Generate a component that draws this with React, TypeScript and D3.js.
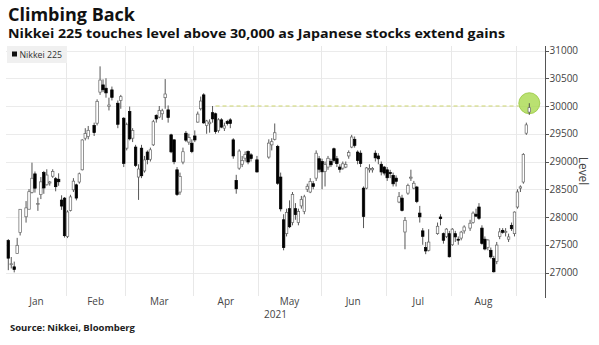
import React, { useEffect } from 'react';
import * as d3 from 'd3';

// ---------- data (Nikkei 225 daily OHLC, 2021) ----------
const dates = [
  '2021-01-04','2021-01-05','2021-01-06','2021-01-07','2021-01-08','2021-01-12','2021-01-13','2021-01-14','2021-01-15','2021-01-18',
  '2021-01-19','2021-01-20','2021-01-21','2021-01-22','2021-01-25','2021-01-26','2021-01-27','2021-01-28','2021-01-29',
  '2021-02-01','2021-02-02','2021-02-03','2021-02-04','2021-02-05','2021-02-08','2021-02-09','2021-02-10','2021-02-12','2021-02-15',
  '2021-02-16','2021-02-17','2021-02-18','2021-02-19','2021-02-22','2021-02-24','2021-02-25','2021-02-26',
  '2021-03-01','2021-03-02','2021-03-03','2021-03-04','2021-03-05','2021-03-08','2021-03-09','2021-03-10','2021-03-11','2021-03-12',
  '2021-03-15','2021-03-16','2021-03-17','2021-03-18','2021-03-19','2021-03-22','2021-03-23','2021-03-24','2021-03-25','2021-03-26',
  '2021-03-29','2021-03-30','2021-03-31',
  '2021-04-01','2021-04-02','2021-04-05','2021-04-06','2021-04-07','2021-04-08','2021-04-09','2021-04-12','2021-04-13','2021-04-14',
  '2021-04-15','2021-04-16','2021-04-19','2021-04-20','2021-04-21','2021-04-22','2021-04-23','2021-04-26','2021-04-27','2021-04-28','2021-04-30',
  '2021-05-06','2021-05-07','2021-05-10','2021-05-11','2021-05-12','2021-05-13','2021-05-14','2021-05-17','2021-05-18','2021-05-19',
  '2021-05-20','2021-05-21','2021-05-24','2021-05-25','2021-05-26','2021-05-27','2021-05-28','2021-05-31',
  '2021-06-01','2021-06-02','2021-06-03','2021-06-04','2021-06-07','2021-06-08','2021-06-09','2021-06-10','2021-06-11','2021-06-14',
  '2021-06-15','2021-06-16','2021-06-17','2021-06-18','2021-06-21','2021-06-22','2021-06-23','2021-06-24','2021-06-25','2021-06-28',
  '2021-06-29','2021-06-30',
  '2021-07-01','2021-07-02','2021-07-05','2021-07-06','2021-07-07','2021-07-08','2021-07-09','2021-07-12','2021-07-13','2021-07-14',
  '2021-07-15','2021-07-16','2021-07-19','2021-07-20','2021-07-21','2021-07-26','2021-07-27','2021-07-28','2021-07-29','2021-07-30',
  '2021-08-02','2021-08-03','2021-08-04','2021-08-05','2021-08-06','2021-08-10','2021-08-11','2021-08-12','2021-08-13','2021-08-16',
  '2021-08-17','2021-08-18','2021-08-19','2021-08-20','2021-08-23','2021-08-24','2021-08-25','2021-08-26','2021-08-27','2021-08-30','2021-08-31',
  '2021-09-01','2021-09-02','2021-09-03','2021-09-06','2021-09-07',
];

const opens = [
  27575,27151,27102,27340,27720,28004,28140,28442,28777,28238,
  28403,28800,28580,28612,28735,28690,28680,28305,28340,
  27650,28120,28490,28580,28630,28850,29420,29450,29650,29690,
  30250,30380,30320,29990,30290,30050,30100,29780,
  29240,29900,29420,29260,28720,29240,28830,29170,29040,29300,
  29830,29800,29860,30150,29930,29480,29390,28850,28450,28990,
  29510,29350,29330,
  29460,29710,29950,30200,29650,29680,29880,29860,29560,29750,
  29600,29720,29750,29390,28660,28880,28950,29060,29180,29120,29030,
  29080,29300,29400,29270,28720,27950,27700,28150,27900,28150,
  27900,28200,28100,28500,28450,28600,28700,29050,
  29000,28820,28900,29000,29230,29050,28900,28880,28900,29100,
  29260,29400,29170,29150,28520,28520,28850,28850,29150,29100,
  28950,28900,
  28850,28800,28750,28700,28270,28340,27730,28430,28700,28520,
  28540,28070,27750,27450,27400,27700,28000,27700,27650,27700,
  27500,27700,27600,27620,27750,27800,27900,28050,28180,27800,
  27600,27450,27400,27250,27200,27650,27760,27740,27600,27850,27700,
  28180,28520,28630,29510,29890,
];

const highs = [
  27602,27279,27196,27624,28139,28287,28503,28979,28820,28349,
  28720,28830,28860,28649,28860,28720,28787,28391,28360,
  28120,28400,28700,28600,28800,29400,29600,29640,29700,30120,
  30714,30480,30500,30150,30350,30100,30200,29800,
  29700,29990,29600,29300,28950,29300,29100,29200,29250,29750,
  29850,30000,29950,30485,30010,29500,29400,28900,28800,29250,
  29550,29500,29400,
  29560,29900,30170,30230,29750,29760,30000,29880,29780,29780,
  29700,29750,29780,29420,28760,29220,29100,29180,29200,29150,29100,
  29400,29420,29685,29300,28800,28050,28150,28300,28450,28250,
  28150,28380,28400,28600,28700,28650,29200,29100,
  29050,29000,29100,29050,29250,29100,28950,29000,29000,29200,
  29480,29450,29200,29200,28550,28900,28950,28900,29200,29150,
  29000,28920,
  28900,28850,28800,28750,28450,28400,28000,28600,28852,28650,
  28560,28200,27800,27550,27780,27900,28050,27720,27800,27750,
  27800,27750,27650,27750,27850,27950,28100,28150,28250,27850,
  27650,27600,27450,27300,27550,27800,27800,27800,27700,27900,28100,
  28500,28570,29150,29700,30050,
];

const lows = [
  27042,27073,27002,27340,27667,27899,28140,28424,28440,28111,
  28323,28418,28568,28565,28705,28463,28563,28128,27629,
  27620,28100,28450,28300,28600,28840,29380,29400,29460,29650,
  30200,30250,30150,29920,30100,29600,29950,28900,
  29200,29380,29350,28900,28308,28700,28800,28950,29000,29280,
  29700,29780,29750,29950,29700,29150,28950,28380,28400,28950,
  29350,29300,29150,
  29350,29700,29920,29680,29500,29520,29700,29500,29520,29600,
  29550,29650,29600,29050,28420,28850,28900,29000,28950,29000,28800,
  29050,29200,29380,28580,28100,27400,27650,27800,27850,27950,
  27850,28150,28050,28450,28430,28500,28650,28800,
  28500,28550,28850,28900,28980,28900,28800,28850,28880,29050,
  29240,29250,28950,28900,27800,28500,28800,28800,29000,28950,
  28750,28750,
  28650,28700,28550,28550,28250,28100,27419,28400,28650,28500,
  28250,27900,27500,27330,27380,27680,27850,27520,27620,27270,
  27480,27550,27500,27580,27700,27750,27880,28000,27950,27500,
  27400,27400,27250,27000,27150,27600,27700,27650,27550,27750,27650,
  28150,28450,28600,29480,29840,
];

const closes = [
  27258,27158,27055,27490,28139,28164,28456,28698,28519,28242,
  28633,28523,28756,28631,28822,28546,28635,28197,27663,
  28091,28362,28646,28341,28779,29388,29505,29562,29520,30084,
  30467,30292,30236,30017,30156,29671,30168,28966,
  29663,29408,29559,28930,28864,28743,29028,29036,29211,29717,
  29767,29921,29914,30216,29792,29174,28996,28405,28729,29176,
  29384,29432,29178,
  29388,29854,30089,29696,29730,29708,29768,29538,29751,29620,
  29642,29683,29685,29100,28508,29188,29020,29126,28991,29053,28812,
  29331,29357,29518,28608,28147,27448,28084,27824,28406,28044,
  28098,28317,28364,28553,28642,28549,29149,28860,
  28814,28946,29058,28941,29019,28963,28860,28958,28948,29161,
  29441,29291,29018,28964,28010,28884,28874,28875,29066,29048,
  28812,28791,
  28707,28783,28598,28643,28366,28118,27940,28569,28718,28608,
  28279,28003,27652,27388,27548,27833,27970,27581,27782,27283,
  27781,27641,27584,27728,27820,27888,28070,28015,27977,27523,
  27424,27585,27281,27013,27494,27732,27724,27742,27641,27789,28089,
  28451,28543,29128,29660,29970,
];

const monthLabels = ['Jan', 'Feb', 'Mar', 'Apr', 'May', 'Jun', 'Jul', 'Aug'];
const monthStarts = ['2021-01-04', '2021-02-01', '2021-03-01', '2021-04-01', '2021-05-03', '2021-06-01', '2021-07-01', '2021-08-02', '2021-09-01'];
const yTicks = [27000, 27500, 28000, 28500, 29000, 29500, 30000, 30500, 31000];
const targetLevel = 30000;
const targetLineStart = '2021-04-12';
const yearLabel = '2021';
const seriesName = 'Nikkei 225';

// ---------- helpers ----------
const parse = d3.timeParse('%Y-%m-%d');
const origin = parse(dates[0]) as Date;
const wd = (s: string) => {
  const n = d3.timeDay.count(origin, parse(s) as Date);
  return Math.floor(n / 7) * 5 + (n % 7);
};

const W = 599, H = 345;
const PL = 6, PR = 545, PT = 46, PB = 296;
const FONT = '"Open Sans", "DejaVu Sans", sans-serif';

export default function App() {
  useEffect(() => {
    document.body.style.margin = '0';
    document.body.style.background = '#fff';
  }, []);

  const lastIdx = wd(dates[dates.length - 1]);
  const x = d3.scaleLinear().domain([0, lastIdx]).range([8.3, 529.3]);
  const y = d3.scaleLinear().domain([27000, 31000]).range([272.5, 50.5]);

  const bw = 2.5;
  const candles = dates.map((d, i) => ({ xi: x(wd(d)), o: opens[i], h: highs[i], l: lows[i], c: closes[i] }));

  const gridXs = monthStarts.slice(1).map((s) => x(wd(s) - 0.5));
  const labelXs = monthLabels.map((_, i) => {
    const a = wd(monthStarts[i]);
    const b = wd(monthStarts[i + 1]) - 1;
    return x((a + b) / 2);
  });

  const last = candles[candles.length - 1];
  const cr = 10.5;
  const cx = last.xi;
  const cy = y(last.h);

  return (
    <svg width={W} height={H} style={{ position: 'absolute', left: 0, top: 0, background: '#fff' }} fontFamily={FONT}>
      <rect x={0} y={0} width={W} height={H} fill="#fff" />
      {/* titles */}
      <text x={8} y={20.5} fontSize={18} fontWeight={700} fill="#111" textLength={127} lengthAdjust="spacingAndGlyphs">Climbing Back</text>
      <text x={8} y={38} fontSize={12.6} fontWeight={700} fill="#111" textLength={497} lengthAdjust="spacingAndGlyphs">Nikkei 225 touches level above 30,000 as Japanese stocks extend gains</text>

      {/* gridlines */}
      {yTicks.map((t) => (
        <line key={'h' + t} x1={PL} x2={PR} y1={Math.round(y(t)) + 0.5} y2={Math.round(y(t)) + 0.5} stroke="#ebebeb" strokeWidth={1} />
      ))}
      {gridXs.map((gx, i) => (
        <line key={'v' + i} x1={Math.round(gx) + 0.5} x2={Math.round(gx) + 0.5} y1={PT} y2={PB} stroke="#e8e8e8" strokeWidth={1} />
      ))}

      {/* legend */}
      <rect x={7} y={46} width={60} height={17} fill="#f0f0f0" />
      <rect x={12} y={51.5} width={5} height={5} fill="#111" />
      <text x={19.5} y={58} fontSize={8.8} fill="#333">{seriesName}</text>

      {/* target level */}
      <line x1={x(wd(targetLineStart))} x2={cx - cr} y1={y(targetLevel)} y2={y(targetLevel)} stroke="#cdd56c" strokeWidth={1} strokeDasharray="4,3" />
      <circle cx={cx} cy={cy} r={cr} fill="#a9d94e" fillOpacity={0.8} stroke="#97c73d" strokeWidth={0.8} />

      {/* candles */}
      {candles.map((k, i) => {
        const up = k.c >= k.o;
        const top = y(Math.max(k.o, k.c));
        const hgt = Math.max(1, Math.abs(y(k.o) - y(k.c)));
        return (
          <g key={i}>
            <line x1={k.xi} x2={k.xi} y1={y(k.h)} y2={y(k.l)} stroke="#444" strokeWidth={0.9} />
            <rect x={k.xi - bw / 2} y={top} width={bw} height={hgt} fill={up ? '#fff' : '#000'} stroke={up ? '#666' : '#000'} strokeWidth={0.7} />
          </g>
        );
      })}

      {/* right axis */}
      <line x1={PR + 0.5} x2={PR + 0.5} y1={PT} y2={PB + 2} stroke="#555" strokeWidth={1} />
      {yTicks.map((t) => (
        <g key={'t' + t}>
          <line x1={PR} x2={PR + 4} y1={Math.round(y(t)) + 0.5} y2={Math.round(y(t)) + 0.5} stroke="#555" strokeWidth={1} />
          <text x={PR + 4.5} y={y(t)} dy="0.35em" fontSize={10} fill="#444">{t}</text>
        </g>
      ))}
      <text transform={`translate(583,171) rotate(90)`} textAnchor="middle" dominantBaseline="central" fontSize={12} fill="#444">Level</text>

      {/* x axis labels */}
      {monthLabels.map((m, i) => (
        <text key={m} x={labelXs[i]} y={305} textAnchor="middle" fontSize={10} fill="#444">{m}</text>
      ))}
      <text x={(PL + PR) / 2} y={318} textAnchor="middle" fontSize={10} fill="#444">{yearLabel}</text>

      {/* source */}
      <text x={10} y={331} fontSize={9} fontWeight={700} fill="#222" textLength={125} lengthAdjust="spacingAndGlyphs">Source: Nikkei, Bloomberg</text>
    </svg>
  );
}
